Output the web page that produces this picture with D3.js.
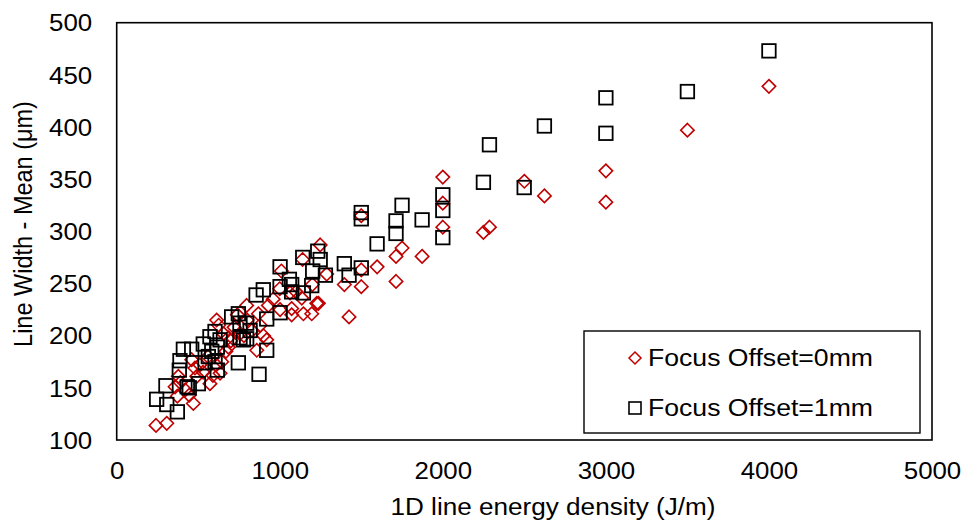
<!DOCTYPE html>
<html>
<head>
<meta charset="utf-8">
<script src="https://cdn.jsdelivr.net/npm/d3@7"></script>
<style>
  body { margin: 0; background: #fff; }
  svg { display: block; font-family: "Liberation Sans", Arial, sans-serif; }
</style>
</head>
<body>
<svg id="chart" width="963" height="527"></svg>
<script>
// ---- Data ----
const xTicks = [0, 1000, 2000, 3000, 4000, 5000];
const yTicks = [100, 150, 200, 250, 300, 350, 400, 450, 500];
const seriesNames = ["Focus Offset=0mm", "Focus Offset=1mm"];

const offset0mmX = [241,307,358,378,372,390,420,445,470,460,480,491,510,530,560,572,590,610,634,613,625,654,644,670,685,685,700,720,740,756,780,797,800,830,859,869,880,900,920,930,960,1002,1000,1010,1063,1073,1073,1100,1135,1145,1140,1196,1200,1227,1237,1248,1288,1396,1425,1500,1500,1500,1597,1713,1713,1750,1873,2000,2000,2000,2249,2286,2500,2623,3000,3000,3500,4000];
const offset0mmY = [114,116,151,161,142,155,148,143,135,177,169,161,172,165,180,154,162,172,164,215,210,202,175,185,198,189,195,208,220,202,200,229,215,205,186,221,210,200,196,229,235,225,245,262,241,226,220,242,236,221,273,221,249,231,231,287,259,249,218,315,263,247,266,276,252,284,276,352,327,304,299,304,348,334,358,328,397,439];

const offset1mmX = [245,307,372,302,388,384,433,445,501,460,409,531,542,562,572,583,603,617,617,634,603,705,746,756,797,818,756,777,797,746,920,873,855,899,1002,920,1002,1073,1145,1196,1002,1059,1073,1141,1202,1233,1248,1280,1396,1425,1500,1500,1500,1597,1713,1713,1750,1873,2000,2000,2000,2249,2286,2499,2623,3000,3000,3500,4000];
const offset1mmY = [139,134,127,152,176,167,151,150,154,187,187,192,174,180,199,185,175,167,189,196,204,218,221,212,212,205,198,196,197,174,186,163,239,244,222,216,247,249,241,248,266,254,242,275,262,281,273,258,269,258,318,312,265,288,310,298,325,311,335,320,294,347,383,342,401,428,394,434,473];

// ---- Layout ----
const W = 963, H = 527;
const m = { left: 116.7, right: 31, top: 22.7, bottom: 87 };
const FS = 23.5;      // font size
const SX = 1.1;       // horizontal text stretch
const svg = d3.select("#chart");

const x = d3.scaleLinear().domain([0, 5000]).range([m.left, W - m.right]);
const y = d3.scaleLinear().domain([100, 500]).range([H - m.bottom, m.top]);

// Plot frame
svg.append("rect")
  .attr("x", x(0)).attr("y", y(500))
  .attr("width", x(5000) - x(0)).attr("height", y(100) - y(500))
  .attr("fill", "none").attr("stroke", "#000").attr("stroke-width", 1.6);

// Axes (labels only)
const xAxis = d3.axisBottom(x).tickValues(xTicks).tickSize(0).tickFormat(d3.format("d"));
const gx = svg.append("g").attr("transform", `translate(0,${y(100)})`).call(xAxis);
gx.select(".domain").remove();
gx.selectAll("text")
  .attr("font-size", FS).attr("fill", "#000").attr("font-family", "Liberation Sans, Arial, sans-serif")
  .attr("dy", null).attr("y", 39).attr("transform", `scale(${SX},1)`);

const yAxis = d3.axisLeft(y).tickValues(yTicks).tickSize(0).tickFormat(d3.format("d"));
const gy = svg.append("g").attr("transform", `translate(${x(0)},0)`).call(yAxis);
gy.select(".domain").remove();
gy.selectAll("text")
  .attr("font-size", FS).attr("fill", "#000").attr("font-family", "Liberation Sans, Arial, sans-serif")
  .attr("x", -24.5 / SX).attr("dy", "0.35em").attr("transform", `scale(${SX},1)`);

// Axis titles
svg.append("text")
  .attr("x", 553).attr("y", 515)
  .attr("text-anchor", "middle").attr("font-size", FS).attr("fill", "#000")
  .attr("textLength", 325).attr("lengthAdjust", "spacingAndGlyphs")
  .text("1D line energy density (J/m)");
svg.append("text")
  .attr("transform", `translate(31.5,224) scale(${SX},1) rotate(-90)`)
  .attr("text-anchor", "middle").attr("font-size", FS).attr("fill", "#000")
  .text("Line Width - Mean (μm)");

// Markers
const diamond = (cx, cy, r) => `M${cx},${cy - r}L${cx + r},${cy}L${cx},${cy + r}L${cx - r},${cy}Z`;

const d0 = offset0mmX.map((v, i) => ({ x: v, y: offset0mmY[i] }));
const d1 = offset1mmX.map((v, i) => ({ x: v, y: offset1mmY[i] }));

svg.append("g").selectAll("path").data(d0).join("path")
  .attr("d", d => diamond(x(d.x), y(d.y), 6.7))
  .attr("fill", "none").attr("stroke", "#C00000").attr("stroke-width", 1.6);

const sq = 13.5;
svg.append("g").selectAll("rect").data(d1).join("rect")
  .attr("x", d => x(d.x) - sq / 2).attr("y", d => y(d.y) - sq / 2)
  .attr("width", sq).attr("height", sq)
  .attr("fill", "none").attr("stroke", "#000").attr("stroke-width", 1.8);

// Legend
const lg = svg.append("g");
lg.append("rect").attr("x", 584).attr("y", 331).attr("width", 336).attr("height", 102)
  .attr("fill", "#fff").attr("stroke", "#000").attr("stroke-width", 1.4);
lg.append("path").attr("d", diamond(635, 358, 6))
  .attr("fill", "none").attr("stroke", "#C00000").attr("stroke-width", 1.5);
lg.append("rect").attr("x", 629).attr("y", 402).attr("width", 12).attr("height", 12)
  .attr("fill", "none").attr("stroke", "#000").attr("stroke-width", 1.6);
lg.append("text").attr("x", 648).attr("y", 366).attr("font-size", FS).attr("fill", "#000")
  .attr("textLength", 225).attr("lengthAdjust", "spacingAndGlyphs").text(seriesNames[0]);
lg.append("text").attr("x", 648).attr("y", 416).attr("font-size", FS).attr("fill", "#000")
  .attr("textLength", 225).attr("lengthAdjust", "spacingAndGlyphs").text(seriesNames[1]);
</script>
</body>
</html>
